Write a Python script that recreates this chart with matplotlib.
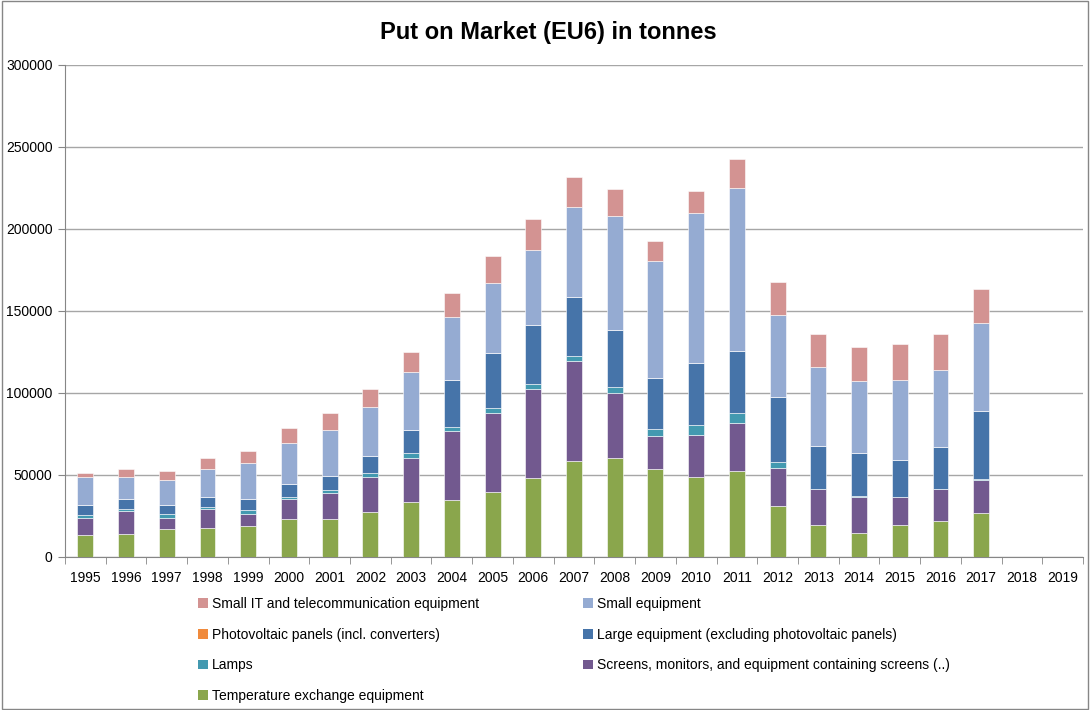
import numpy as np
import matplotlib
matplotlib.use("Agg")
import matplotlib.pyplot as plt
from matplotlib.patches import Rectangle, Patch

plt.rcParams['font.family'] = ['Liberation Sans', 'DejaVu Sans']

years = [str(y) for y in range(1995, 2020)]

# tonnes per category (2018/2019 empty)
temp_exchange = [13400, 13800, 16900, 17900, 19100, 23000, 23400, 27200, 33500, 34800, 39800, 48200,
                 58500, 60400, 53700, 49000, 52400, 31300, 19500, 14600, 19500, 22000, 26800, 0, 0]
screens = [10600, 14100, 7100, 11200, 7300, 12200, 15600, 21600, 27000, 42000, 48200, 54200,
           60800, 39400, 20100, 25600, 29100, 23000, 21800, 22200, 16900, 19500, 20000, 0, 0]
lamps = [1800, 1600, 2000, 1600, 2400, 1600, 1700, 2200, 2700, 2500, 2700, 2900,
         3300, 4100, 4500, 5700, 6100, 3400, 300, 600, 400, 200, 500, 0, 0]
large_eq = [5900, 6100, 5700, 5900, 6400, 7900, 8700, 10600, 14000, 28600, 33500, 36000,
            36100, 34700, 30700, 37800, 38200, 39900, 26100, 26000, 22300, 25600, 41700, 0, 0]
pv_panels = [0] * 25
small_eq = [16900, 13400, 15300, 16900, 22100, 25000, 28200, 29900, 35600, 38200, 42700, 46100,
            54500, 69500, 71500, 91500, 99400, 49800, 48000, 43700, 49000, 46900, 53700, 0, 0]
small_it = [2600, 4500, 5400, 6700, 7300, 8800, 10000, 10800, 12400, 15100, 16400, 18500,
            18300, 16100, 12200, 13800, 17700, 20300, 20100, 21100, 21900, 21600, 20700, 0, 0]

series = [
    ("Temperature exchange equipment", temp_exchange, "#8AA64C"),
    ("Screens, monitors, and equipment containing screens (..)", screens, "#72598F"),
    ("Lamps", lamps, "#4399B0"),
    ("Large equipment (excluding photovoltaic panels)", large_eq, "#4674A9"),
    ("Photovoltaic panels (incl. converters)", pv_panels, "#F08A3C"),
    ("Small equipment", small_eq, "#95ABD2"),
    ("Small IT and telecommunication equipment", small_it, "#D39392"),
]

fig = plt.figure(figsize=(10.9, 7.1), dpi=100)
ax = fig.add_axes([65 / 1090, 1 - 557 / 710, 1018 / 1090, 492 / 710])

x = np.arange(len(years))
bottom = np.zeros(len(years))
for name, vals, col in series:
    vals = np.array(vals, dtype=float)
    ax.bar(x, vals, width=0.39, bottom=bottom, color=col, edgecolor="white", linewidth=0.4, zorder=3)
    bottom += vals

ax.set_xlim(-0.5, len(years) - 0.5)
ax.set_ylim(0, 300000)
ax.set_yticks(np.arange(0, 300001, 50000))
ax.set_yticklabels([str(v) for v in range(0, 300001, 50000)], fontsize=10)
ax.set_xticks(x)
ax.set_xticklabels(years, fontsize=10)
ax.set_xticks(np.arange(-0.5, len(years), 1), minor=True)
ax.tick_params(axis="x", which="major", length=0, pad=10)
ax.tick_params(axis="x", which="minor", length=5, color="#868686")
ax.tick_params(axis="y", length=5, color="#868686", pad=4)
ax.grid(axis="y", color="#A6A6A6", linewidth=1, zorder=0)
for s in ["top", "right"]:
    ax.spines[s].set_visible(False)
for s in ["left", "bottom"]:
    ax.spines[s].set_color("#868686")

fig.text(0.503, 1 - 32 / 710, "Put on Market (EU6) in tonnes", ha="center", va="center",
         fontsize=17, fontweight="bold")

# legend laid out like the Excel one: two columns, row-wise order
lookup = {name: col for name, vals, col in series}
col1 = ["Small IT and telecommunication equipment", "Photovoltaic panels (incl. converters)",
        "Lamps", "Temperature exchange equipment"]
col2 = ["Small equipment", "Large equipment (excluding photovoltaic panels)",
        "Screens, monitors, and equipment containing screens (..)"]
for names, xpos in [(col1, 198), (col2, 583)]:
    handles = [Patch(facecolor=lookup[n], edgecolor="none") for n in names]
    fig.legend(handles, names, loc="upper left", bbox_to_anchor=(xpos / 1090, 1 - 597 / 710),
               frameon=False, fontsize=10, handlelength=0.7, handleheight=0.7,
               handletextpad=0.3, labelspacing=1.2, borderaxespad=0, borderpad=0)

fig.patches.append(Rectangle((0.002, 0.002), 0.996, 0.996, transform=fig.transFigure,
                             fill=False, edgecolor="#868686", linewidth=1))

fig.savefig("out.png", dpi=100)
